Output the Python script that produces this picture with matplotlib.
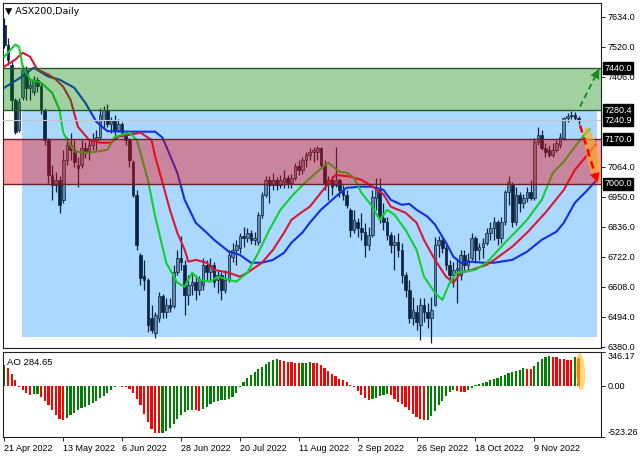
import numpy as np
import matplotlib
matplotlib.use("Agg")
import matplotlib.pyplot as plt
import matplotlib.transforms as mtransforms
from matplotlib.patches import Rectangle, Polygon

plt.rcParams['font.family'] = ['Liberation Sans', 'DejaVu Sans']
FS = 6.5

# ---- daily candles (one per trading day) ----
OPENS = [7604, 7528, 7452, 7319, 7205, 7330, 7433, 7365, 7349, 7395,
         7372, 7281, 7167, 7034, 6996, 7015, 6939, 7091, 7148, 7129,
         7072, 7072, 7137, 7121, 7148, 7167, 7178, 7243, 7281, 7228,
         7243, 7205, 7228, 7194, 7167, 7083, 6958, 6730, 6650, 6635,
         6491, 6434, 6491, 6574, 6513, 6540, 6536, 6665, 6719, 6692,
         6578, 6616, 6627, 6597, 6616, 6692, 6665, 6692, 6635, 6654,
         6597, 6635, 6722, 6749, 6757, 6802, 6795, 6814, 6787, 6779,
         6882, 6958, 7015, 6996, 7015, 6996, 7007, 7023, 7004, 7023,
         7068, 7053, 7091, 7110, 7121, 7121, 7137, 7072, 7004, 7015,
         6996, 7015, 6977, 6958, 6901, 6825, 6855, 6833, 6817, 6768,
         6806, 6947, 6977, 6871, 6855, 6806, 6768, 6779, 6749, 6654,
         6597, 6491, 6513, 6464, 6540, 6513, 6491, 6540, 6768, 6787,
         6757, 6692, 6654, 6673, 6654, 6730, 6692, 6719, 6795, 6749,
         6760, 6776, 6814, 6833, 6855, 6795, 6855, 6969, 6996, 6855,
         6958, 6928, 6947, 6969, 6947, 7159, 7186, 7137, 7129, 7110,
         7129, 7148, 7175, 7251, 7258, 7262, 7251]
HIGHS = [7631, 7555, 7463, 7327, 7327, 7452, 7448, 7395, 7410, 7406,
         7387, 7289, 7175, 7072, 7045, 7030, 7129, 7178, 7193, 7167,
         7102, 7167, 7159, 7167, 7193, 7205, 7289, 7296, 7304, 7254,
         7262, 7247, 7235, 7201, 7175, 7091, 6977, 6738, 6711, 6643,
         6540, 6513, 6589, 6582, 6567, 6567, 6692, 6749, 6802, 6711,
         6654, 6665, 6654, 6650, 6719, 6711, 6719, 6703, 6673, 6665,
         6673, 6749, 6776, 6787, 6814, 6836, 6833, 6825, 6817, 6893,
         6969, 7030, 7030, 7042, 7026, 7034, 7053, 7034, 7038, 7080,
         7091, 7102, 7121, 7137, 7140, 7144, 7140, 7091, 7030, 7030,
         7140, 7023, 6996, 6977, 6909, 6901, 6871, 6890, 6852, 6836,
         6977, 7023, 7023, 6928, 6874, 6817, 6806, 6814, 6776, 6665,
         6635, 6570, 6540, 6567, 6567, 6548, 6570, 6798, 6802, 6795,
         6768, 6711, 6703, 6719, 6749, 6749, 6738, 6814, 6802, 6776,
         6795, 6833, 6855, 6874, 6863, 6874, 6977, 7030, 7007, 6988,
         6969, 6962, 6988, 7015, 7175, 7216, 7205, 7156, 7148, 7156,
         7167, 7194, 7254, 7270, 7277, 7273, 7258]
LOWS = [7517, 7452, 7281, 7190, 7197, 7319, 7319, 7319, 7338, 7349,
        7266, 7148, 7004, 6939, 6969, 6890, 6928, 7072, 7091, 7064,
        6988, 7061, 7099, 7091, 7129, 7129, 7167, 7213, 7216, 7194,
        7167, 7197, 7178, 7148, 7064, 6950, 6749, 6616, 6597, 6437,
        6434, 6415, 6475, 6491, 6491, 6513, 6529, 6654, 6673, 6502,
        6540, 6578, 6559, 6578, 6597, 6635, 6635, 6608, 6586, 6559,
        6586, 6627, 6703, 6692, 6738, 6760, 6779, 6772, 6768, 6768,
        6871, 6950, 6928, 6977, 6977, 6985, 6985, 6985, 6985, 7015,
        7034, 7038, 7064, 7091, 7083, 7091, 7061, 6977, 6939, 6958,
        6988, 6950, 6939, 6909, 6798, 6814, 6798, 6787, 6722, 6749,
        6798, 6901, 6852, 6825, 6787, 6738, 6673, 6722, 6624, 6570,
        6472, 6464, 6445, 6407, 6475, 6453, 6396, 6536, 6722, 6738,
        6673, 6624, 6608, 6548, 6635, 6673, 6673, 6711, 6700, 6711,
        6719, 6768, 6787, 6787, 6768, 6776, 6844, 6920, 6836, 6844,
        6893, 6909, 6931, 6939, 6939, 7148, 7129, 7102, 7102, 7102,
        7121, 7137, 7167, 7235, 7247, 7243, 7228]
CLOSES = [7528, 7471, 7319, 7197, 7311, 7433, 7365, 7376, 7395, 7372,
          7281, 7167, 7034, 6996, 7015, 6920, 7091, 7148, 7129, 7083,
          7061, 7137, 7121, 7148, 7167, 7178, 7262, 7281, 7228, 7243,
          7205, 7228, 7194, 7167, 7091, 6958, 6768, 6643, 6635, 6464,
          6445, 6502, 6574, 6513, 6540, 6529, 6665, 6719, 6703, 6578,
          6616, 6627, 6597, 6635, 6692, 6665, 6692, 6627, 6654, 6597,
          6635, 6730, 6749, 6768, 6802, 6795, 6814, 6787, 6795, 6882,
          6958, 7015, 6996, 7015, 6996, 7015, 7023, 7004, 7023, 7068,
          7053, 7091, 7110, 7121, 7129, 7137, 7072, 7004, 7015, 6988,
          7015, 6977, 6958, 6920, 6825, 6863, 6833, 6817, 6768, 6806,
          6950, 6977, 6871, 6855, 6806, 6768, 6779, 6749, 6654, 6597,
          6491, 6521, 6475, 6540, 6513, 6491, 6521, 6768, 6787, 6757,
          6692, 6654, 6673, 6681, 6730, 6692, 6711, 6795, 6749, 6760,
          6776, 6814, 6833, 6855, 6795, 6855, 6969, 7007, 6855, 6958,
          6928, 6947, 6969, 6947, 7159, 7186, 7137, 7121, 7110, 7129,
          7156, 7178, 7251, 7258, 7262, 7251, 7240.9]

# Alligator lines as (bar, price) readings
JAW = [(0, 7365), (4, 7400), (8, 7441), (12, 7407), (15, 7396), (19, 7365), (22, 7308),
       (25, 7236), (28, 7200), (34, 7198), (41, 7198), (43, 7175), (47, 7042), (49, 6939),
       (52, 6852), (55, 6814), (57, 6787), (61, 6742), (64, 6730), (67, 6700), (70, 6700),
       (73, 6711), (76, 6738), (78, 6776), (81, 6815), (83, 6852), (86, 6901), (90, 6951),
       (93, 6985), (97, 6989), (100, 6989), (103, 6977), (105, 6939), (108, 6920), (110, 6924),
       (112, 6901), (115, 6875), (117, 6845), (120, 6776), (122, 6723), (124, 6700), (127, 6704),
       (130, 6700), (133, 6700), (138, 6711), (142, 6742), (146, 6787), (150, 6818), (152, 6852),
       (155, 6928), (158, 6970), (160.5, 7008)]
TEETH = [(0, 7445), (3, 7472), (5, 7498), (7, 7483), (9, 7434), (12, 7415), (14, 7396),
         (16, 7369), (18, 7319), (20, 7217), (23, 7167), (26, 7156), (29, 7156), (31, 7179),
         (34, 7186), (37, 7194), (40, 7167), (41, 7103), (43, 7004), (45, 6901), (47, 6814),
         (49, 6749), (50, 6704), (52, 6711), (55, 6700), (57, 6673), (61, 6662), (64, 6647),
         (66, 6662), (70, 6700), (73, 6749), (76, 6814), (78, 6863), (81, 6894), (83, 6913),
         (86, 6966), (90, 7034), (94, 7027), (97, 7015), (100, 6989), (103, 6960), (105, 6913),
         (109, 6890), (112, 6852), (114, 6787), (117, 6711), (120, 6647), (122, 6624), (124, 6662),
         (127, 6673), (131, 6692), (133, 6710), (138, 6761), (142, 6814), (147, 6890), (152, 6977),
         (155, 7053), (158, 7103), (160.5, 7148)]
LIPS = [(0, 7483), (3, 7529), (4, 7521), (5, 7445), (7, 7396), (10, 7384), (13, 7346),
        (15, 7281), (16, 7194), (19, 7122), (23, 7118), (25, 7122), (28, 7129), (30, 7179),
        (34, 7194), (36, 7167), (39, 7015), (41, 6875), (44, 6700), (47, 6624), (49, 6609),
        (51, 6662), (53, 6635), (56, 6628), (58, 6647), (61, 6635), (63, 6628), (66, 6662),
        (69, 6738), (72, 6825), (75, 6901), (78, 6951), (81, 6995), (85, 7046), (88, 7080),
        (91, 7046), (93, 7042), (95, 7023), (97, 6966), (100, 6913), (102, 6863), (104, 6901),
        (106, 6882), (109, 6825), (112, 6749), (114, 6647), (117, 6586), (119, 6559), (121, 6624),
        (123, 6662), (125, 6666), (128, 6673), (131, 6700), (133, 6730), (136, 6776), (140, 6833),
        (142, 6863), (146, 6939), (149, 7042), (152, 7084), (155, 7141), (158, 7194), (159, 7206)]

# Awesome Oscillator
AO = [210, 185, 125, 60, -10, -40, -75, -90, -88, -85,
      -110, -150, -195, -245, -300, -340, -345, -330, -300, -275,
      -250, -230, -215, -195, -175, -150, -125, -100, -70, -40,
      -15, -5, -8, -15, -30, -70, -130, -200, -290, -370,
      -440, -478, -484, -480, -460, -430, -390, -340, -300, -270,
      -250, -245, -250, -255, -240, -215, -190, -165, -150, -145,
      -140, -130, -110, -70, -10, 40, 85, 115, 140, 170,
      195, 220, 245, 265, 272, 265, 255, 245, 240, 235,
      233, 235, 238, 240, 235, 230, 215, 185, 150, 125,
      100, 75, 55, 35, 10, -15, -50, -90, -120, -140,
      -135, -120, -105, -95, -80, -90, -130, -165, -190, -215,
      -245, -285, -320, -340, -348, -345, -310, -255, -200, -150,
      -100, -60, -40, -55, -60, -62, -45, -20, 5, 20,
      30, 40, 55, 70, 85, 100, 115, 130, 145, 155,
      165, 178, 176, 174, 205, 245, 270, 290, 307, 300,
      290, 275, 270, 268, 265, 290, 284.65]
AO_RANGE = (-523.26, 346.17)

DATE_BARS = [0, 16, 32, 48, 64, 80, 96, 112, 128, 144]
DATE_LABELS = ['21 Apr 2022', '13 May 2022', '6 Jun 2022', '28 Jun 2022', '20 Jul 2022',
               '11 Aug 2022', '2 Sep 2022', '26 Sep 2022', '18 Oct 2022', '9 Nov 2022']

PRICE_TICKS = [7634, 7520, 7406, 7064, 6950, 6836, 6722, 6608, 6494, 6380]
TARGET_HIGH = 7440.0
RESIST = 7280.4
LAST_PRICE = 7240.9
SUPPORT_HIGH = 7170.0
SUPPORT_LOW = 7000.0
BOX_BOTTOM = 6418

CANDLE_DARK = '#0c2440'
BULL_FILL = '#6388aa'


def tilted_ellipse(ax, top, bottom, half_width, **kw):
    t = np.linspace(0, 2 * np.pi, 80)
    cx, cy = (top[0] + bottom[0]) / 2, (top[1] + bottom[1]) / 2
    dx, dy = (bottom[0] - top[0]) / 2, (bottom[1] - top[1]) / 2
    xs = cx + dx * np.cos(t) + half_width * np.sin(t)
    ys = cy + dy * np.cos(t)
    ax.add_patch(Polygon(np.column_stack([xs, ys]), closed=True, **kw))


def dashed_arrow(ax, start, end, color, lw):
    ax.plot([start[0], end[0]], [start[1], end[1]], color=color, lw=lw,
            ls=(0, (3, 2)), zorder=7)
    near = (end[0] - 0.3 * (end[0] - start[0]), end[1] - 0.3 * (end[1] - start[1]))
    ax.annotate('', xy=end, xytext=near, zorder=7,
                arrowprops=dict(arrowstyle='-|>,head_length=0.7,head_width=0.35',
                                color=color, lw=0.01, shrinkA=0, shrinkB=0))


fig = plt.figure(figsize=(6.4, 4.57), dpi=100)
ax = fig.add_axes([3 / 640, 1 - 348 / 457, 598 / 640, 345 / 457])
ax_ao = fig.add_axes([3 / 640, 1 - 437 / 457, 598 / 640, 85 / 457], sharex=ax)

n = len(CLOSES)
idx = np.arange(n)
o, h, l, c = map(np.array, (OPENS, HIGHS, LOWS, CLOSES))

# zones
ax.add_patch(Rectangle((4.7, BOX_BOTTOM), 160.9 - 4.7, RESIST - BOX_BOTTOM,
                       facecolor='#aad8ff', edgecolor='none', zorder=0))

# candles
up = c >= o
ax.vlines(idx, l, h, color=CANDLE_DARK, lw=0.9, zorder=2)
body = np.maximum(np.abs(c - o), 3)
ax.bar(idx[up], body[up], bottom=o[up], width=0.72, color=BULL_FILL,
       edgecolor=CANDLE_DARK, lw=0.5, zorder=3)
ax.bar(idx[~up], body[~up], bottom=c[~up], width=0.72, color=CANDLE_DARK,
       edgecolor=CANDLE_DARK, lw=0.5, zorder=3)

# alligator
for pts, col in ((JAW, '#1030e8'), (TEETH, '#d81830'), (LIPS, '#10d030')):
    xs, ys = zip(*pts)
    ax.plot(xs, ys, color=col, lw=1.5, zorder=4)

ax.axhspan(RESIST, TARGET_HIGH, facecolor=(0, 0.5, 0, 0.37), edgecolor='none', zorder=5)
ax.axhspan(SUPPORT_LOW, SUPPORT_HIGH, facecolor=(1, 0, 0, 0.38), edgecolor='none', zorder=5)
for lvl in (RESIST, TARGET_HIGH):
    ax.axhline(lvl, color='#245a2c', lw=1.0, zorder=5)
for lvl in (SUPPORT_LOW, SUPPORT_HIGH):
    ax.axhline(lvl, color='#6e1e2a', lw=1.0, zorder=5)
ax.axhline(LAST_PRICE, color='#c4c8cc', lw=0.8, zorder=5)

# forecast marks
tilted_ellipse(ax, (158.2, 7215), (161.2, 7005), 1.6,
               facecolor=(1.0, 0.68, 0.1, 0.65), edgecolor='none', zorder=6)
dashed_arrow(ax, (156.4, 7293), (161.6, 7437), '#1e8c1e', 1.4)
dashed_arrow(ax, (156.4, 7222), (161.2, 7004), '#ff0000', 1.8)

ax.set_xlim(-0.35, 162.1)
ax.set_ylim(6376, 7687)
ax.yaxis.tick_right()
ax.set_yticks(PRICE_TICKS)
ax.set_yticklabels([f'{v:.1f}' for v in PRICE_TICKS], fontsize=FS)
ax.tick_params(axis='y', length=3, width=0.6, pad=2)
ax.tick_params(axis='x', bottom=False, labelbottom=False)

trans = mtransforms.blended_transform_factory(ax.transAxes, ax.transData)
for lvl in (TARGET_HIGH, RESIST, LAST_PRICE, SUPPORT_HIGH, SUPPORT_LOW):
    ax.text(1.006, lvl, f'{lvl:.1f}', transform=trans, fontsize=FS, color='white',
            va='center', ha='left', zorder=10, clip_on=False,
            bbox=dict(boxstyle='square,pad=0.15', facecolor='black', edgecolor='black'))

ax.text(0.004, 0.988, '\u25bc ASX200,Daily', transform=ax.transAxes, fontsize=FS + 0.3,
        va='top', ha='left', family=['DejaVu Sans'])

# AO panel
ao = np.array(AO)
rising = np.r_[True, ao[1:] > ao[:-1]]
ax_ao.bar(idx, ao, width=0.6, color=np.where(rising, '#008000', '#ff0000'), lw=0, zorder=2)
tilted_ellipse(ax_ao, (156.3, 330), (156.7, -40), 1.1,
               facecolor=(1.0, 0.78, 0.15, 0.6), edgecolor=(1.0, 0.8, 0.2, 0.8), lw=0.6, zorder=3)
ax_ao.set_ylim(*AO_RANGE)
ax_ao.yaxis.tick_right()
ao_ticks = [AO_RANGE[1], 0.0, AO_RANGE[0]]
ax_ao.set_yticks(ao_ticks)
ax_ao.set_yticklabels([f'{v:.2f}' for v in ao_ticks], fontsize=FS)
labs = ax_ao.get_yticklabels()
labs[0].set_va('top')
labs[2].set_va('bottom')
ax_ao.tick_params(axis='y', length=3, width=0.6, pad=2)
ax_ao.text(0.006, 0.93, f'AO {AO[-1]:.2f}', transform=ax_ao.transAxes, fontsize=FS + 0.3,
           va='top', ha='left')

ax_ao.set_xticks(DATE_BARS)
ax_ao.set_xticklabels(DATE_LABELS, fontsize=FS, ha='left')
ax_ao.tick_params(axis='x', length=3, width=0.6, pad=2)

for a in (ax, ax_ao):
    for s in a.spines.values():
        s.set_linewidth(0.8)
        s.set_color('#202020')

fig.savefig('out.png', dpi=100, facecolor='white')
